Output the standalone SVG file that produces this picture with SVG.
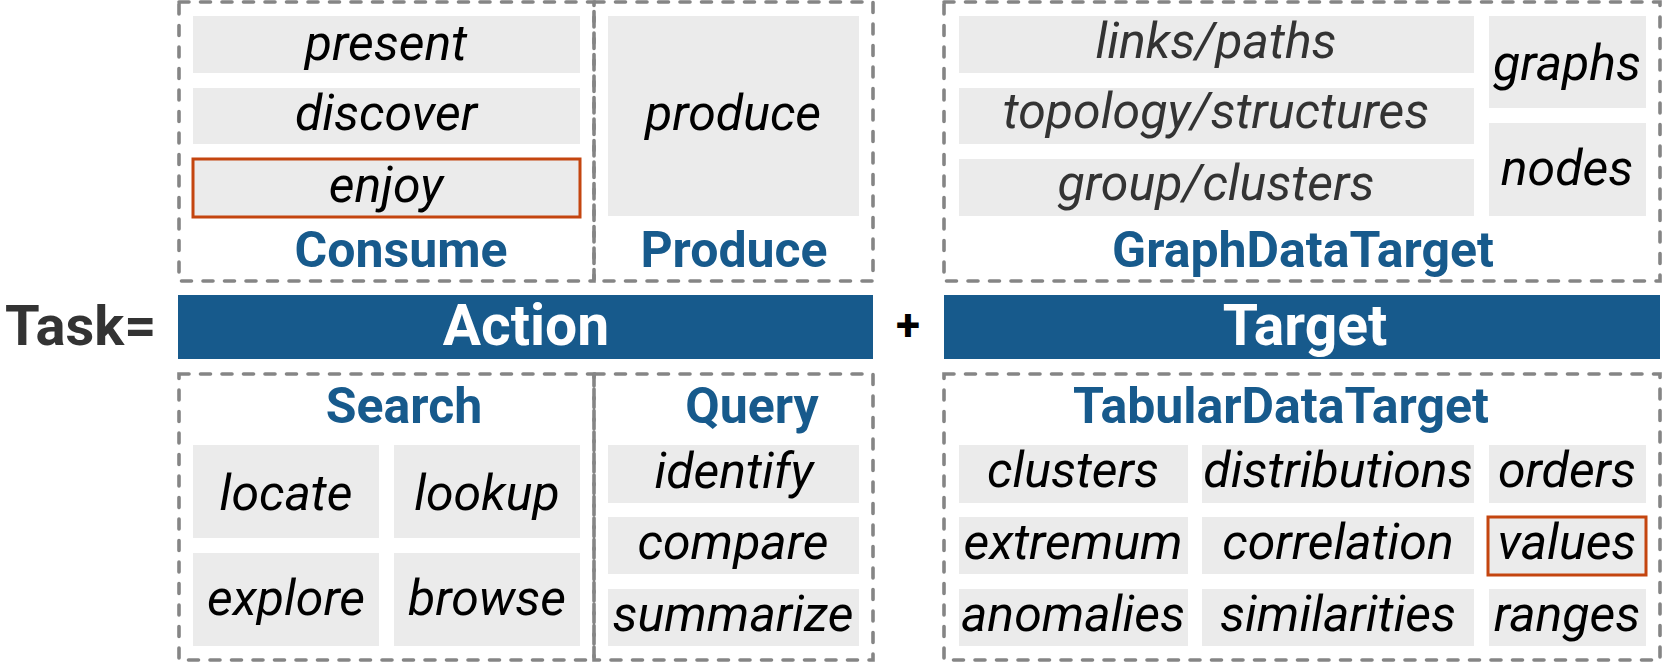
<svg xmlns="http://www.w3.org/2000/svg" width="1662" height="662" viewBox="0 0 1662 662">
<style>
.dash{fill:none;stroke:#858585;stroke-width:3.6;stroke-dasharray:10 11.5;stroke-linecap:round}
.item{fill:#ebebeb}
.hl{fill:#ebebeb;stroke:#c4450f;stroke-width:3}
.it{font-family:Roboto,"Liberation Sans",sans-serif;font-style:italic;font-size:50px;fill:#000;text-anchor:middle}
.it2{font-family:Roboto,"Liberation Sans",sans-serif;font-style:italic;font-size:50px;fill:#333;text-anchor:middle}
.lbl{font-family:Roboto,"Liberation Sans",sans-serif;font-weight:bold;font-size:50px;fill:#175a8c;text-anchor:middle}
.bar{fill:#175a8c}
.bartxt{font-family:Roboto,"Liberation Sans",sans-serif;font-weight:bold;font-size:57px;fill:#fff;text-anchor:middle}
</style>
<rect width="1662" height="662" fill="#fff"/>
<g id="connectors"/>
<g id="task"><text x="5" y="345" font-family="Roboto,'Liberation Sans',sans-serif" font-weight="bold" font-size="56" fill="#333">Task=</text></g>
<g id="action"><rect class="bar" x="178" y="295" width="695" height="64"/><text class="bartxt" x="526" y="345">Action</text></g>
<g id="plus"><text x="908" y="340" font-family="Roboto,'Liberation Sans',sans-serif" font-weight="bold" font-size="44" fill="#000" text-anchor="middle">+</text></g>
<g id="target"><rect class="bar" x="944" y="295" width="716" height="64"/><text class="bartxt" x="1305" y="345">Target</text></g>

<g id="consume">
<rect class="dash" x="179" y="2" width="415" height="279"/>
<text class="lbl" x="401" y="267">Consume</text>
<g id="present"><rect class="item" x="193" y="16" width="387" height="57"/><text class="it" x="386" y="60">present</text></g>
<g id="discover"><rect class="item" x="193" y="88" width="387" height="56"/><text class="it" x="386" y="130">discover</text></g>
<g id="enjoy"><rect class="hl" x="193" y="159" width="387" height="58"/><text class="it" x="386" y="202">enjoy</text></g>
</g>

<g id="produce-box">
<rect class="dash" x="594" y="2" width="279" height="279"/>
<text class="lbl" x="734" y="267">Produce</text>
<g id="produce"><rect class="item" x="608" y="16" width="251" height="200"/><text class="it" x="733" y="130">produce</text></g>
</g>

<g id="graphdatatarget">
<rect class="dash" x="944" y="2" width="716" height="279"/>
<text class="lbl" x="1303" y="267">GraphDataTarget</text>
<g id="links"><rect class="item" x="959" y="16" width="515" height="57"/><text class="it2" x="1216" y="58">links/paths</text></g>
<g id="topology"><rect class="item" x="959" y="88" width="515" height="56"/><text class="it2" x="1216" y="128">topology/structures</text></g>
<g id="groups"><rect class="item" x="959" y="159" width="515" height="57"/><text class="it2" x="1216" y="200">group/clusters</text></g>
<g id="graphs"><rect class="item" x="1489" y="16" width="157" height="92"/><text class="it" x="1567" y="80">graphs</text></g>
<g id="nodes"><rect class="item" x="1489" y="123" width="157" height="93"/><text class="it" x="1567" y="185">nodes</text></g>
</g>

<g id="search">
<rect class="dash" x="179" y="374" width="415" height="286"/>
<text class="lbl" x="404" y="423">Search</text>
<g id="locate"><rect class="item" x="193" y="445" width="186" height="93"/><text class="it" x="286" y="510">locate</text></g>
<g id="lookup"><rect class="item" x="394" y="445" width="186" height="93"/><text class="it" x="487" y="510">lookup</text></g>
<g id="explore"><rect class="item" x="193" y="553" width="186" height="93"/><text class="it" x="286" y="615">explore</text></g>
<g id="browse"><rect class="item" x="394" y="553" width="186" height="93"/><text class="it" x="487" y="615">browse</text></g>
</g>

<g id="query">
<rect class="dash" x="594" y="374" width="279" height="286"/>
<text class="lbl" x="752" y="423">Query</text>
<g id="identify"><rect class="item" x="608" y="445" width="251" height="58"/><text class="it" x="734" y="488">identify</text></g>
<g id="compare"><rect class="item" x="608" y="517" width="251" height="57"/><text class="it" x="733" y="559">compare</text></g>
<g id="summarize"><rect class="item" x="608" y="589" width="251" height="57"/><text class="it" x="733" y="631">summarize</text></g>
</g>

<g id="tabulardatatarget">
<rect class="dash" x="944" y="374" width="716" height="286"/>
<text class="lbl" x="1281" y="423">TabularDataTarget</text>
<g id="clusters"><rect class="item" x="959" y="445" width="229" height="58"/><text class="it" x="1073" y="487">clusters</text></g>
<g id="distributions"><rect class="item" x="1202" y="445" width="272" height="58"/><text class="it" x="1338" y="487">distributions</text></g>
<g id="orders"><rect class="item" x="1489" y="445" width="157" height="58"/><text class="it" x="1567" y="487">orders</text></g>
<g id="extremum"><rect class="item" x="959" y="517" width="229" height="57"/><text class="it" x="1073" y="559">extremum</text></g>
<g id="correlation"><rect class="item" x="1202" y="517" width="272" height="57"/><text class="it" x="1338" y="559">correlation</text></g>
<g id="values"><rect class="hl" x="1488" y="517" width="158" height="58"/><text class="it" x="1567" y="559">values</text></g>
<g id="anomalies"><rect class="item" x="959" y="589" width="229" height="57"/><text class="it" x="1073" y="631">anomalies</text></g>
<g id="similarities"><rect class="item" x="1202" y="589" width="272" height="57"/><text class="it" x="1338" y="631">similarities</text></g>
<g id="ranges"><rect class="item" x="1489" y="589" width="157" height="57"/><text class="it" x="1567" y="631">ranges</text></g>
</g>
</svg>
